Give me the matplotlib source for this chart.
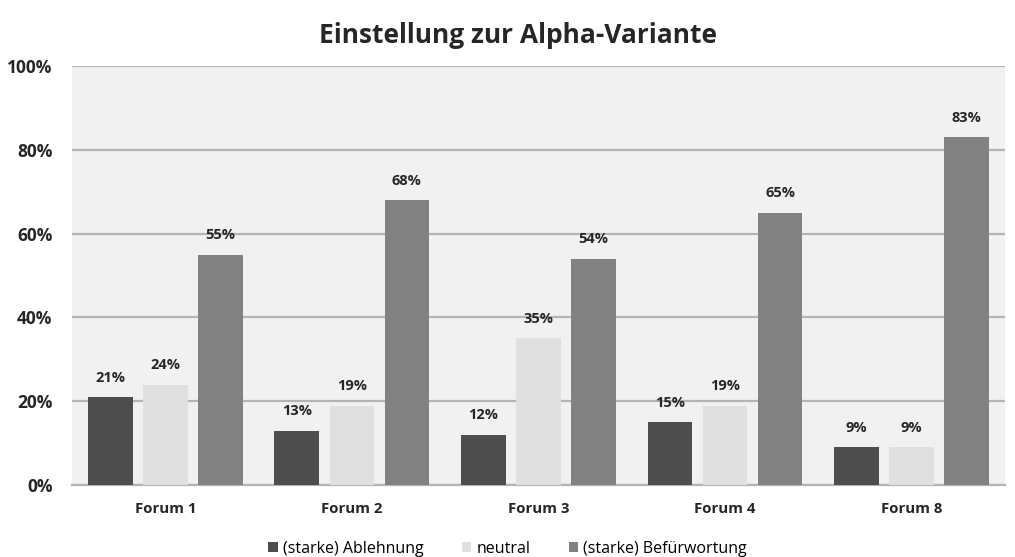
import numpy as np
import matplotlib.pyplot as plt

forums = ["Forum 1", "Forum 2", "Forum 3", "Forum 4", "Forum 8"]
ablehnung = [21, 13, 12, 15, 9]
neutral = [24, 19, 35, 19, 9]
befuerwortung = [55, 68, 54, 65, 83]
series_names = ["(starke) Ablehnung", "neutral", "(starke) Befürwortung"]
colors = ["#4d4d4d", "#e0e0e0", "#828282"]

plt.rcParams['font.family'] = ['Open Sans', 'DejaVu Sans']

fig = plt.figure(figsize=(10.15, 5.57), dpi=100)
ax = fig.add_axes([0.071, 0.129, 0.919, 0.7525])
ax.set_facecolor("#f1f1f1")

x = np.arange(len(forums))
w = 0.24
step = 0.295
for i, (vals, name, c) in enumerate(zip([ablehnung, neutral, befuerwortung], series_names, colors)):
    pos = x + (i - 1) * step
    ax.bar(pos, vals, width=w, color=c, label=name, zorder=3)
    for p, v in zip(pos, vals):
        ax.text(p, v + 3, f"{v}%", ha="center", va="bottom", fontsize=10.5,
                fontweight="bold", color="#262626")

ax.set_xlim(-0.5, len(forums) - 0.5)
ax.set_ylim(0, 100)
ax.set_yticks(range(0, 101, 20))
ax.set_yticklabels([f"{t}%" for t in range(0, 101, 20)], fontsize=12.5,
                   fontweight="bold", color="#262626")
ax.set_xticks(x)
ax.set_xticklabels(forums, fontsize=10.8, fontweight="bold", color="#262626")
ax.tick_params(axis="y", length=0, pad=14)
ax.tick_params(axis="x", length=0, pad=12)
ax.grid(axis="y", color="#b4b4b4", linewidth=1.6, zorder=0)
for s in ["top", "right", "left"]:
    ax.spines[s].set_visible(False)
ax.spines["bottom"].set_color("#b4b4b4")
ax.spines["bottom"].set_linewidth(1.6)

fig.suptitle("Einstellung zur Alpha-Variante", x=0.51, y=0.96, fontsize=19,
             fontweight="bold", color="#262626")
fig.legend(loc="lower center", bbox_to_anchor=(0.5, -0.025), ncol=3, frameon=False,
           fontsize=11.5, handlelength=0.6, handleheight=0.6, handletextpad=0.3,
           columnspacing=2.4)

plt.savefig("out.png", dpi=100)
